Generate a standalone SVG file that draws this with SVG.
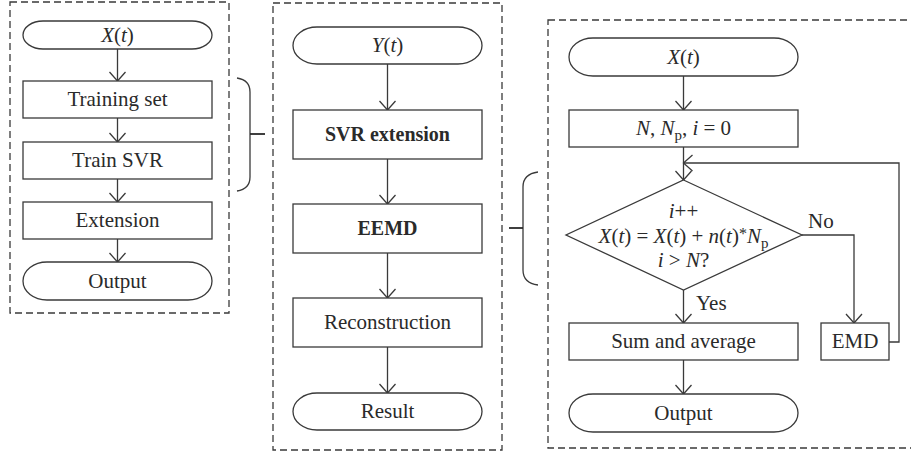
<svg xmlns="http://www.w3.org/2000/svg" width="911" height="453" viewBox="0 0 911 453">
  <style>
    .frame { fill: none; stroke: #3a3a3a; stroke-width: 1.3; stroke-dasharray: 7 4; }
    .box { fill: #ffffff; stroke: #3a3a3a; stroke-width: 1.3; }
    .wire { fill: none; stroke: #3a3a3a; stroke-width: 1.3; }
    .brace { fill: none; stroke: #3a3a3a; stroke-width: 1.3; }
    .tick { fill: none; stroke: #2a2a2a; stroke-width: 1.8; }
    text { font-family: "Liberation Serif", "Times New Roman", serif; font-size: 21px; fill: #2a2a2a; text-anchor: middle; }
    .b { font-weight: bold; font-size: 20px; }
    .it { font-style: italic; }
    .lbl { text-anchor: start; }
  </style>
  <defs>
    <marker id="arrow" markerUnits="userSpaceOnUse" orient="auto" refX="0" refY="0" markerWidth="20" markerHeight="20" overflow="visible">
      <path d="M-9,-8 L0,0 L-9,8" fill="none" stroke="#3a3a3a" stroke-width="1.3"/>
    </marker>
  </defs>

  <!-- dashed panel frames -->
  <g id="frames">
    <rect class="frame" x="10" y="2" width="219" height="311"/>
    <rect class="frame" x="273" y="3" width="229" height="447"/>
    <rect class="frame" x="548" y="20" width="372" height="428"/>
  </g>

  <!-- braces linking panels -->
  <g id="braces">
    <path class="brace" d="M237,78 Q250,80 250,92 L250,177 Q250,189 237,191"/>
    <path class="tick" d="M250,134 L265,134"/>
    <path class="brace" d="M538,172 Q523,174 523,187 L523,270 Q523,283 538,285"/>
    <path class="tick" d="M509,228 L523,228"/>
  </g>

  <!-- connectors -->
  <g id="connectors">
    <line class="wire" x1="117.5" y1="49" x2="117.5" y2="81" marker-end="url(#arrow)"/>
    <line class="wire" x1="117.5" y1="118" x2="117.5" y2="142" marker-end="url(#arrow)"/>
    <line class="wire" x1="117.5" y1="179" x2="117.5" y2="202" marker-end="url(#arrow)"/>
    <line class="wire" x1="117.5" y1="239" x2="117.5" y2="262" marker-end="url(#arrow)"/>

    <line class="wire" x1="387.5" y1="64" x2="387.5" y2="110" marker-end="url(#arrow)"/>
    <line class="wire" x1="387.5" y1="159" x2="387.5" y2="204" marker-end="url(#arrow)"/>
    <line class="wire" x1="387.5" y1="253" x2="387.5" y2="298" marker-end="url(#arrow)"/>
    <line class="wire" x1="387.5" y1="347" x2="387.5" y2="393" marker-end="url(#arrow)"/>

    <line class="wire" x1="683.5" y1="76" x2="683.5" y2="110" marker-end="url(#arrow)"/>
    <line class="wire" x1="683.5" y1="147" x2="683.5" y2="180" marker-end="url(#arrow)"/>
    <line class="wire" x1="683.5" y1="290" x2="683.5" y2="323" marker-end="url(#arrow)"/>
    <line class="wire" x1="683.5" y1="360" x2="683.5" y2="394" marker-end="url(#arrow)"/>
    <polyline class="wire" points="802,235 854,235 854,323" marker-end="url(#arrow)"/>
    <polyline class="wire" points="889,342 899,342 899,163 683.5,163" marker-end="url(#arrow)"/>
  </g>

  <!-- left panel: SVR training -->
  <g id="left-start">
    <rect class="box" x="23" y="21" width="189" height="28" rx="20" ry="14"/>
    <text x="117.5" y="42"><tspan class="it">X</tspan>(<tspan class="it">t</tspan>)</text>
  </g>
  <g id="training-set">
    <rect class="box" x="23" y="81" width="189" height="37"/>
    <text x="117.5" y="106">Training set</text>
  </g>
  <g id="train-svr">
    <rect class="box" x="23" y="142" width="189" height="37"/>
    <text x="117.5" y="167">Train SVR</text>
  </g>
  <g id="extension">
    <rect class="box" x="23" y="202" width="189" height="37"/>
    <text x="117.5" y="227">Extension</text>
  </g>
  <g id="left-output">
    <rect class="box" x="23" y="262" width="189" height="38" rx="24" ry="19"/>
    <text x="117.5" y="288">Output</text>
  </g>

  <!-- middle panel: overall procedure -->
  <g id="mid-start">
    <rect class="box" x="293" y="27" width="189" height="37" rx="24" ry="18.5"/>
    <text x="387.5" y="52"><tspan class="it">Y</tspan>(<tspan class="it">t</tspan>)</text>
  </g>
  <g id="svr-extension">
    <rect class="box" x="293" y="110" width="189" height="49"/>
    <text class="b" x="387.5" y="141">SVR extension</text>
  </g>
  <g id="eemd">
    <rect class="box" x="293" y="204" width="189" height="49"/>
    <text class="b" x="387.5" y="235">EEMD</text>
  </g>
  <g id="reconstruction">
    <rect class="box" x="293" y="298" width="189" height="49"/>
    <text x="387.5" y="329">Reconstruction</text>
  </g>
  <g id="result">
    <rect class="box" x="293" y="393" width="189" height="37" rx="24" ry="18.5"/>
    <text x="387.5" y="418">Result</text>
  </g>

  <!-- right panel: EEMD loop -->
  <g id="right-start">
    <rect class="box" x="569" y="38" width="229" height="38" rx="24" ry="19"/>
    <text x="683.5" y="64"><tspan class="it">X</tspan>(<tspan class="it">t</tspan>)</text>
  </g>
  <g id="init">
    <rect class="box" x="569" y="110" width="229" height="37"/>
    <text x="683.5" y="135"><tspan class="it">N</tspan>, <tspan class="it">N</tspan><tspan dy="5" font-size="15">p</tspan><tspan dy="-5">, </tspan><tspan class="it">i</tspan> = 0</text>
  </g>
  <g id="decision">
    <polygon class="box" points="683.5,180 802,235 683.5,290 566,235"/>
    <text x="683.5" y="218"><tspan class="it">i</tspan>++</text>
    <text x="683.5" y="243"><tspan class="it">X</tspan>(<tspan class="it">t</tspan>) = <tspan class="it">X</tspan>(<tspan class="it">t</tspan>) + <tspan class="it">n</tspan>(<tspan class="it">t</tspan>)<tspan dy="-4" font-size="16">*</tspan><tspan class="it" dy="4">N</tspan><tspan dy="5" font-size="15">p</tspan></text>
    <text x="683.5" y="267"><tspan class="it">i</tspan> &gt; <tspan class="it">N</tspan>?</text>
    <text class="lbl" x="808" y="228">No</text>
    <text class="lbl" x="696" y="310">Yes</text>
  </g>
  <g id="sum-average">
    <rect class="box" x="569" y="323" width="229" height="37"/>
    <text x="683.5" y="348">Sum and average</text>
  </g>
  <g id="emd">
    <rect class="box" x="821" y="323" width="68" height="37"/>
    <text x="855" y="348">EMD</text>
  </g>
  <g id="right-output">
    <rect class="box" x="569" y="394" width="229" height="38" rx="24" ry="19"/>
    <text x="683.5" y="420">Output</text>
  </g>
</svg>
